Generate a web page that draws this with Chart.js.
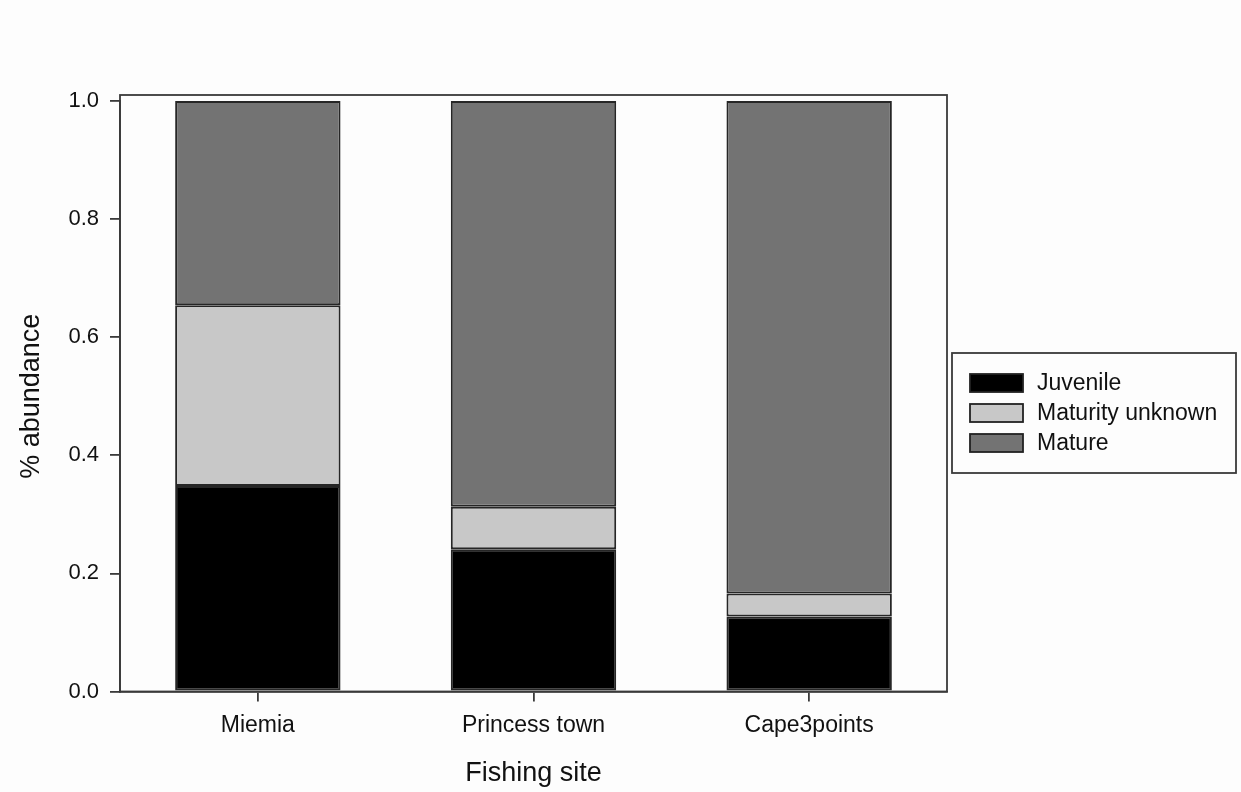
<!DOCTYPE html>
<html>
<head>
<meta charset="utf-8">
<script src="https://cdn.jsdelivr.net/npm/chart.js@4.4.1/dist/chart.umd.min.js"></script>
<style>
  body { margin: 0; background: #fdfdfd; }
  #wrap { width: 1241px; height: 792px; position: relative; }
</style>
</head>
<body>
<div id="wrap"><canvas id="myChart"></canvas></div>
<script>
const sites = ["Miemia", "Princess town", "Cape3points"];
const juvenile = [0.348, 0.241, 0.127];
const maturityUnknown = [0.306, 0.072, 0.039];
const mature = [0.346, 0.687, 0.834];
const yTicks = [0, 0.2, 0.4, 0.6, 0.8, 1.0];

const fontFamily = "'Liberation Sans', Arial, sans-serif";
const lineColor = "#3a3a3a";

// frame round the plot + boxed legend on the right
const framePlugin = {
  id: "frame",
  afterDatasetsDraw(chart) {
    const { ctx, chartArea } = chart;
    ctx.save();
    ctx.strokeStyle = lineColor;
    ctx.lineWidth = 1.8;
    ctx.strokeRect(chartArea.left, chartArea.top - 6, chartArea.right - chartArea.left, chartArea.bottom - chartArea.top + 6);
    ctx.restore();
  },
  afterDraw(chart) {
    const ctx = chart.ctx;
    ctx.save();
    ctx.strokeStyle = lineColor;
    ctx.lineWidth = 1.8;
    ctx.strokeRect(952, 353, 284, 120);
    ctx.font = "23px " + fontFamily;
    ctx.textBaseline = "middle";
    ctx.textAlign = "left";
    chart.data.datasets.forEach((ds, i) => {
      const y = 383 + i * 30;
      ctx.fillStyle = ds.backgroundColor;
      ctx.fillRect(970, y - 9, 53, 18);
      ctx.strokeStyle = "#222";
      ctx.lineWidth = 1.8;
      ctx.strokeRect(970, y - 9, 53, 18);
      ctx.fillStyle = "#111";
      ctx.fillText(ds.label, 1037, y + 1);
    });
    ctx.restore();
  }
};

const data = {
  labels: sites,
  datasets: [
    { label: "Juvenile", data: juvenile, backgroundColor: "#000000" },
    { label: "Maturity unknown", data: maturityUnknown, backgroundColor: "#c8c8c8" },
    { label: "Mature", data: mature, backgroundColor: "#737373" }
  ].map(ds => Object.assign(ds, {
    borderColor: "#262626",
    borderWidth: 2,
    borderSkipped: false,
    barPercentage: 0.6,
    categoryPercentage: 1.0
  }))
};

const config = {
  type: "bar",
  data: data,
  options: {
    responsive: true,
    maintainAspectRatio: false,
    animation: false,
    layout: { padding: { left: 0, top: 101, right: 294, bottom: 0 } },
    plugins: {
      legend: { display: false },
      tooltip: { enabled: false }
    },
    scales: {
      x: {
        stacked: true,
        afterFit(scale) { scale.height = 100.5; },
        grid: { display: true, offset: false, drawOnChartArea: false, drawTicks: true, tickLength: 10, color: lineColor, lineWidth: 1.8 },
        border: { display: true, color: lineColor, width: 1.8 },
        ticks: { color: "#111", padding: 10, font: { family: fontFamily, size: 23 } },
        title: { display: true, text: "Fishing site", color: "#111", padding: { top: 0, bottom: 2 }, font: { family: fontFamily, size: 27 } }
      },
      y: {
        stacked: true,
        min: 0,
        max: 1,
        afterFit(scale) { scale.width = 120; },
        afterBuildTicks(scale) { scale.ticks = yTicks.map(v => ({ value: v })); },
        grid: { display: true, drawOnChartArea: false, drawTicks: true, tickLength: 10, color: lineColor, lineWidth: 1.8 },
        border: { display: true, color: lineColor, width: 1.8 },
        ticks: {
          color: "#111",
          padding: 11,
          font: { family: fontFamily, size: 22 },
          callback: v => Number(v).toFixed(1)
        },
        title: { display: true, text: "% abundance", color: "#111", padding: { top: 15, bottom: 0 }, font: { family: fontFamily, size: 27 } }
      }
    }
  },
  plugins: [framePlugin]
};

const myChart = new Chart(document.getElementById("myChart"), config);
</script>
</body>
</html>
